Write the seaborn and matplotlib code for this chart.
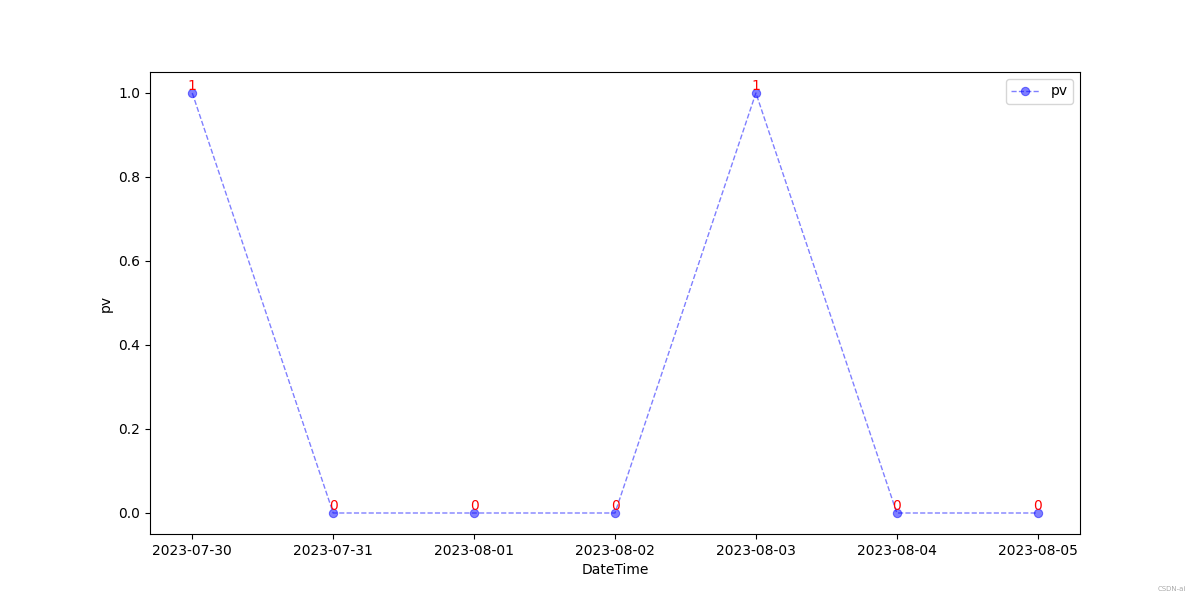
import pandas as pd
import matplotlib
matplotlib.use("Agg")
import matplotlib.pyplot as plt
import matplotlib.dates as mdates
import seaborn as sns

dates = ["2023-07-30", "2023-07-31", "2023-08-01", "2023-08-02",
         "2023-08-03", "2023-08-04", "2023-08-05"]
pv = [1, 0, 0, 0, 1, 0, 0]

df = pd.DataFrame({"DateTime": pd.to_datetime(dates), "pv": pv})

fig, ax = plt.subplots(figsize=(12, 6), dpi=100)
sns.lineplot(data=df, x="DateTime", y="pv", ax=ax, color="blue", alpha=0.5,
             linestyle="--", linewidth=1, marker="o", markersize=6,
             markeredgecolor="blue", label="pv")

for d, v in zip(df["DateTime"], df["pv"]):
    ax.text(d, v, str(v), color="red", ha="center", va="bottom", fontsize=10)

ax.xaxis.set_major_locator(mdates.DayLocator())
ax.xaxis.set_major_formatter(mdates.DateFormatter("%Y-%m-%d"))
ax.set_xlabel("DateTime")
ax.set_ylabel("pv")
ax.legend(loc="upper right")

fig.text(0.988, 0.014, "CSDN-ai", fontsize=5, color="#aaaaaa", ha="right", va="bottom")

fig.savefig("out.png")
